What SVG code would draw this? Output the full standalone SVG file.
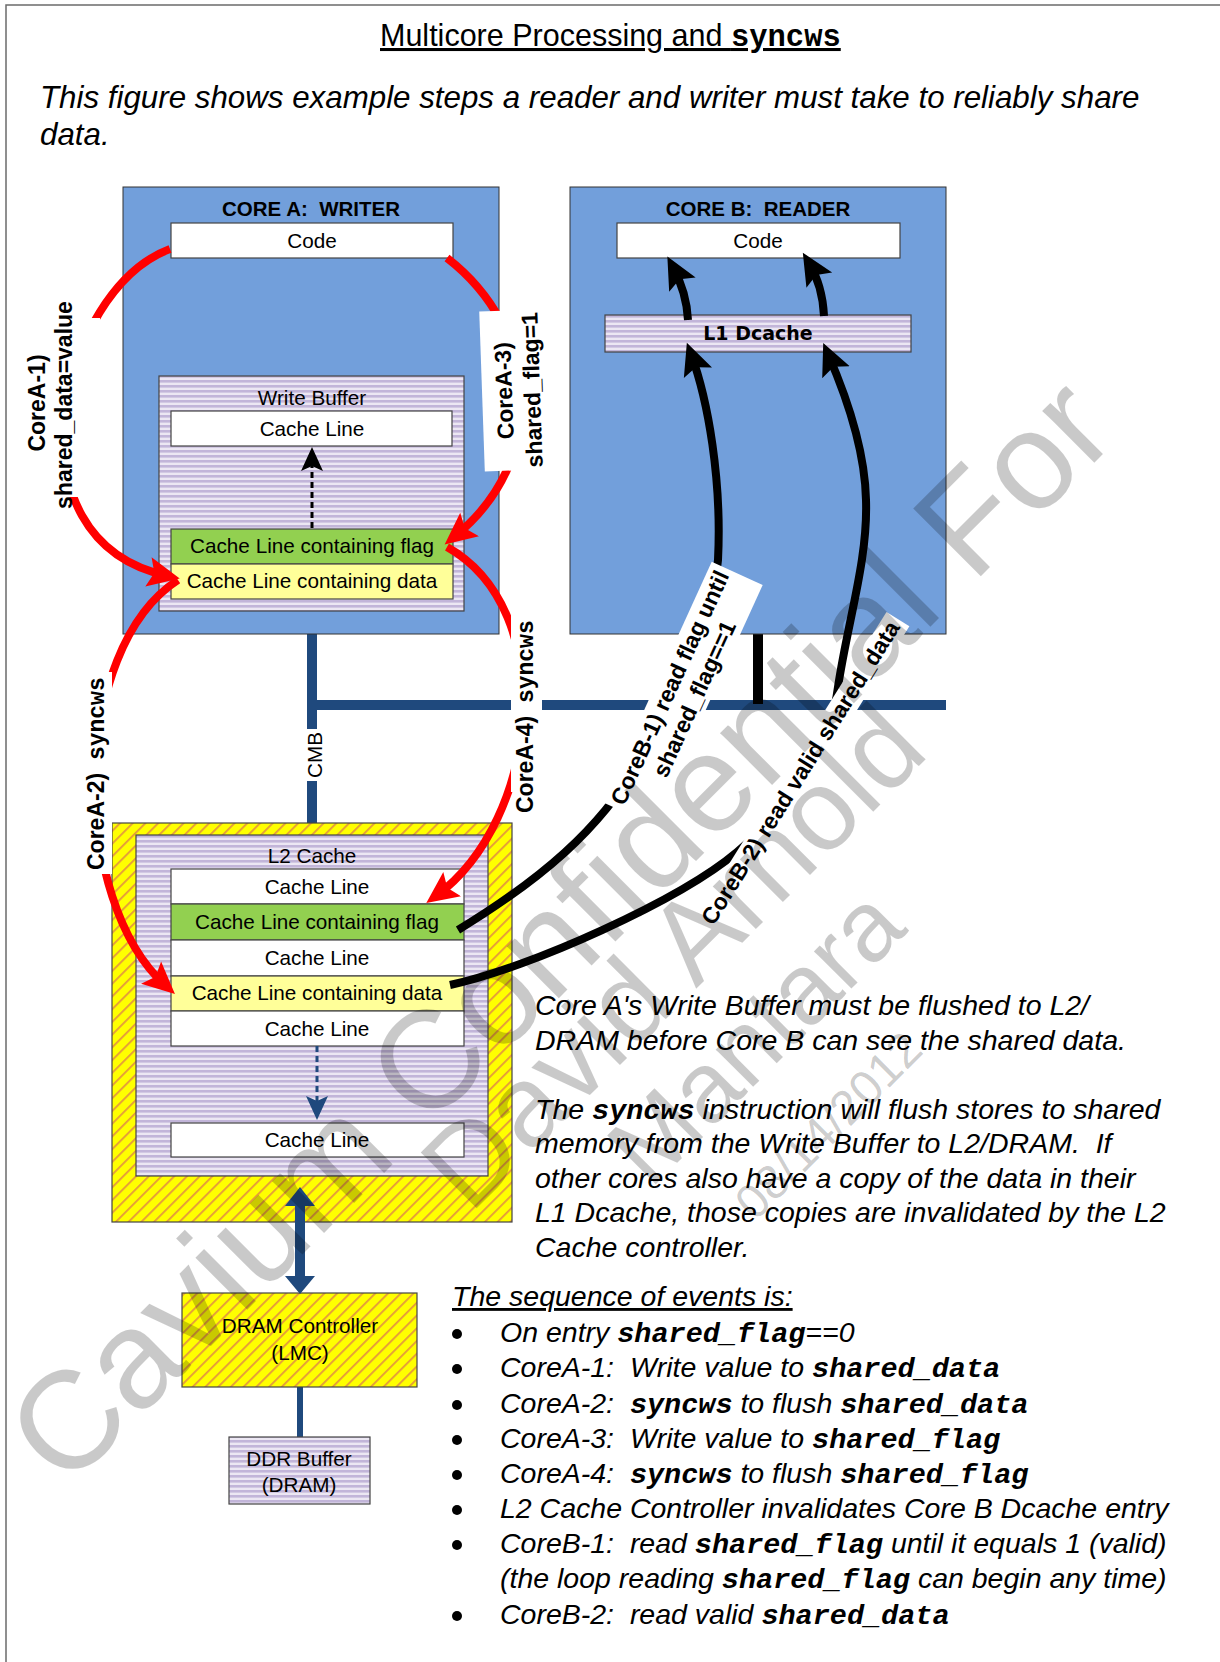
<svg xmlns="http://www.w3.org/2000/svg" width="1220" height="1662" viewBox="0 0 1220 1662">
  <defs>
    <!-- lavender horizontal stripes used for buffers/caches -->
    <pattern id="lav" width="10" height="5" patternUnits="userSpaceOnUse">
      <rect width="10" height="5" fill="#ece7f3"/>
      <rect width="10" height="2.6" fill="#c2b5d9"/>
    </pattern>
    <!-- yellow with orange diagonal hatching -->
    <pattern id="hatch" width="9" height="9" patternUnits="userSpaceOnUse" patternTransform="rotate(45)">
      <rect width="9" height="9" fill="#ffff00"/>
      <rect width="1.8" height="9" fill="#e4983c"/>
    </pattern>
    <marker id="redHead" markerUnits="userSpaceOnUse" markerWidth="34" markerHeight="34" viewBox="0 0 34 34" refX="20" refY="17" orient="auto">
      <path d="M0,2 L32,17 L0,32 L6,17 z" fill="#ff0000"/>
    </marker>
    <marker id="blackHead" markerUnits="userSpaceOnUse" markerWidth="34" markerHeight="34" viewBox="0 0 34 34" refX="20" refY="17" orient="auto">
      <path d="M0,2 L32,17 L0,32 L6,17 z" fill="#000"/>
    </marker>
    <marker id="dashHeadBlack" markerUnits="userSpaceOnUse" markerWidth="24" markerHeight="24" viewBox="0 0 24 24" refX="9" refY="12" orient="auto">
      <path d="M0,1 L24,12 L0,23 L5,12 z" fill="#000"/>
    </marker>
    <marker id="dashHeadBlue" markerUnits="userSpaceOnUse" markerWidth="24" markerHeight="24" viewBox="0 0 24 24" refX="9" refY="12" orient="auto">
      <path d="M0,1 L24,12 L0,23 L5,12 z" fill="#1f497d"/>
    </marker>
  </defs>
  <style>
    .t { font-family: "Liberation Sans", Arial, sans-serif; fill: #000; white-space: pre; }
    .box { font-size: 20.7px; text-anchor: middle; }
    .hdr { font-size: 20.5px; font-weight: bold; text-anchor: middle; }
    .lbl { font-size: 23px; font-weight: bold; }
    .it { font-size: 28.5px; font-style: italic; }
    .m { font-family: "Liberation Mono", "Courier New", monospace; font-weight: bold; }
    .mi { font-family: "Liberation Mono", "Courier New", monospace; font-weight: bold; font-style: italic; }
    .core { fill: #729fdb; stroke: #333; stroke-width: 1; }
    .cell { stroke: #444; stroke-width: 1.2; }
    .red { fill: none; stroke: #ff0000; stroke-width: 8; marker-end: url(#redHead); }
    .blk { fill: none; stroke: #000; stroke-width: 8; marker-end: url(#blackHead); }
    .bus { fill: none; stroke: #1f497d; stroke-width: 10; }
    .tag { fill: #fff; }
  </style>

  <rect width="1220" height="1662" fill="#fff"/>
  <rect x="6" y="5" width="1230" height="1680" fill="none" stroke="#6b6b6b" stroke-width="1.5"/>

  <!-- heading and intro -->
  <text class="t" x="380" y="46" font-size="30.5" text-decoration="underline">Multicore Processing and <tspan class="m">syncws</tspan></text>
  <text class="t" x="40" y="108" font-size="31.3" font-style="italic">This figure shows example steps a reader and writer must take to reliably share</text>
  <text class="t" x="40" y="145" font-size="31.3" font-style="italic">data.</text>

  <!-- bus lines -->
  <g id="buses">
    <path class="bus" d="M312,634 V823"/>
    <path class="bus" d="M312,705 H946"/>
    <path d="M758,634 V704" stroke="#000" stroke-width="10" fill="none"/>
    <path d="M300,1387 V1437" stroke="#1f497d" stroke-width="6" fill="none"/>
  </g>

  <!-- Core A -->
  <g id="coreA">
    <rect class="core" x="123" y="187" width="376" height="447"/>
    <text class="t hdr" x="311" y="216">CORE A:  WRITER</text>
    <g id="coreA-code">
      <rect class="cell" x="171" y="223" width="282" height="35" fill="#fff"/>
      <text class="t box" x="312" y="248">Code</text>
    </g>
    <g id="write-buffer">
      <rect class="cell" x="159" y="376" width="305" height="235" fill="url(#lav)"/>
      <text class="t box" x="312" y="405">Write Buffer</text>
      <rect class="cell" x="171" y="411" width="281" height="35" fill="#fff"/>
      <text class="t box" x="312" y="436">Cache Line</text>
    </g>
    <g id="wb-flag">
      <rect class="cell" x="171" y="529" width="282" height="35" fill="#92d050"/>
      <text class="t box" x="312" y="553">Cache Line containing flag</text>
    </g>
    <g id="wb-data">
      <rect class="cell" x="171" y="564" width="282" height="35" fill="#ffff99"/>
      <text class="t box" x="312" y="588">Cache Line containing data</text>
    </g>
  </g>

  <!-- Core B -->
  <g id="coreB">
    <rect class="core" x="570" y="187" width="376" height="447"/>
    <text class="t hdr" x="758" y="216">CORE B:  READER</text>
    <g id="coreB-code">
      <rect class="cell" x="617" y="223" width="283" height="35" fill="#fff"/>
      <text class="t box" x="758" y="248">Code</text>
    </g>
    <g id="l1-dcache">
      <rect class="cell" x="605" y="315" width="306" height="37" fill="url(#lav)"/>
      <text x="758" y="340" font-family="'DejaVu Sans', Verdana, sans-serif" font-weight="bold" font-size="19" text-anchor="middle" fill="#000">L1 Dcache</text>
    </g>
  </g>

  <!-- L2 cache -->
  <g id="l2">
    <rect class="cell" x="112" y="823" width="400" height="399" fill="url(#hatch)"/>
    <rect class="cell" x="136" y="835" width="352" height="341" fill="url(#lav)"/>
    <text class="t box" x="312" y="863">L2 Cache</text>
    <rect class="cell" x="171" y="869" width="293" height="35" fill="#fff"/>
    <text class="t box" x="317" y="894">Cache Line</text>
    <g id="l2-flag">
      <rect class="cell" x="171" y="904" width="293" height="36" fill="#92d050"/>
      <text class="t box" x="317" y="929">Cache Line containing flag</text>
    </g>
    <rect class="cell" x="171" y="940" width="293" height="36" fill="#fff"/>
    <text class="t box" x="317" y="965">Cache Line</text>
    <g id="l2-data">
      <rect class="cell" x="171" y="976" width="293" height="35" fill="#ffff99"/>
      <text class="t box" x="317" y="1000">Cache Line containing data</text>
    </g>
    <rect class="cell" x="171" y="1011" width="293" height="35" fill="#fff"/>
    <text class="t box" x="317" y="1036">Cache Line</text>
    <rect class="cell" x="171" y="1123" width="293" height="34" fill="#fff"/>
    <text class="t box" x="317" y="1147">Cache Line</text>
  </g>

  <!-- DRAM controller and DDR buffer -->
  <g id="dram-controller">
    <rect class="cell" x="182" y="1293" width="235" height="94" fill="url(#hatch)"/>
    <text class="t box" x="300" y="1333">DRAM Controller</text>
    <text class="t box" x="300" y="1360">(LMC)</text>
  </g>
  <g id="ddr-buffer">
    <rect class="cell" x="229" y="1437" width="141" height="67" fill="url(#lav)"/>
    <text class="t box" x="299" y="1466">DDR Buffer</text>
    <text class="t box" x="299" y="1492">(DRAM)</text>
  </g>

  <!-- explanatory text -->
  <g id="notes">
    <text class="t it" x="535" y="1015">Core A's Write Buffer must be flushed to L2/</text>
    <text class="t it" x="535" y="1050">DRAM before Core B can see the shared data.</text>
    <text class="t it" x="535" y="1119">The <tspan class="mi">syncws</tspan> instruction will flush stores to shared</text>
    <text class="t it" x="535" y="1153">memory from the Write Buffer to L2/DRAM.  If</text>
    <text class="t it" x="535" y="1188">other cores also have a copy of the data in their</text>
    <text class="t it" x="535" y="1222">L1 Dcache, those copies are invalidated by the L2</text>
    <text class="t it" x="535" y="1257">Cache controller.</text>
  </g>

  <g id="sequence">
    <text class="t it" x="452" y="1306" text-decoration="underline">The sequence of events is:</text>
    <g fill="#000">
      <circle cx="457" cy="1334" r="5"/>
      <circle cx="457" cy="1369" r="5"/>
      <circle cx="457" cy="1405" r="5"/>
      <circle cx="457" cy="1440" r="5"/>
      <circle cx="457" cy="1475" r="5"/>
      <circle cx="457" cy="1510" r="5"/>
      <circle cx="457" cy="1545" r="5"/>
      <circle cx="457" cy="1616" r="5"/>
    </g>
    <text class="t it" x="500" y="1342">On entry <tspan class="mi">shared_flag</tspan>==0</text>
    <text class="t it" x="500" y="1377">CoreA-1:  Write value to <tspan class="mi">shared_data</tspan></text>
    <text class="t it" x="500" y="1413">CoreA-2:  <tspan class="mi">syncws</tspan> to flush <tspan class="mi">shared_data</tspan></text>
    <text class="t it" x="500" y="1448">CoreA-3:  Write value to <tspan class="mi">shared_flag</tspan></text>
    <text class="t it" x="500" y="1483">CoreA-4:  <tspan class="mi">syncws</tspan> to flush <tspan class="mi">shared_flag</tspan></text>
    <text class="t it" x="500" y="1518">L2 Cache Controller invalidates Core B Dcache entry</text>
    <text class="t it" x="500" y="1553">CoreB-1:  read <tspan class="mi">shared_flag</tspan> until it equals 1 (valid)</text>
    <text class="t it" x="500" y="1588">(the loop reading <tspan class="mi">shared_flag</tspan> can begin any time)</text>
    <text class="t it" x="500" y="1624">CoreB-2:  read valid <tspan class="mi">shared_data</tspan></text>
  </g>

  <!-- connectors -->
  <g id="connectors">
    <path d="M312,528 V462" stroke="#000" stroke-width="3" stroke-dasharray="6 4" fill="none" marker-end="url(#dashHeadBlack)"/>
    <path d="M317,1046 V1105" stroke="#1f497d" stroke-width="3" stroke-dasharray="6 4" fill="none" marker-end="url(#dashHeadBlue)"/>
    <path d="M300,1205 V1277" stroke="#1f497d" stroke-width="10" fill="none"/>
    <path d="M285,1206 L315,1206 L300,1187 z M285,1276 L315,1276 L300,1294 z" fill="#1f497d"/>

    <path class="red" d="M170,249 C60,290 0,540 168,576"/>
    <path class="red" d="M178,580 C70,650 70,900 166,986"/>
    <path class="red" d="M447,258 C540,330 550,460 454,537"/>
    <path class="red" d="M447,547 C560,610 540,820 436,896"/>

    <path class="blk" d="M688,320 C687,300 681,282 673,267"/>
    <path class="blk" d="M824,316 C823,295 818,278 809,263"/>
    <path class="blk" d="M458,930 C540,880 600,830 640,760 S712,620 718,560 C722,480 708,400 691,354"/>
    <path class="blk" d="M450,985 C530,968 680,900 737,852 C790,808 830,750 838,687 C848,620 868,560 866,500 C865,450 848,400 828,354"/>
  </g>

  <!-- connector labels -->
  <g id="labels">
    <g id="lbl-cmb">
      <rect class="tag" x="303" y="729" width="22" height="52"/>
      <text class="t box" transform="translate(322,755) rotate(-90)">CMB</text>
    </g>
    <g id="lbl-a1">
      <rect class="tag" x="22" y="318" width="78" height="179"/>
      <text class="t lbl" text-anchor="middle" transform="translate(45,403) rotate(-90)">CoreA-1)</text>
      <text class="t lbl" text-anchor="middle" transform="translate(72,405) rotate(-90)">shared_data=value</text>
    </g>
    <g id="lbl-a2">
      <rect class="tag" x="76" y="672" width="36" height="202"/>
      <text class="t lbl" transform="translate(104,870) rotate(-90)">CoreA-2)  <tspan class="m">syncws</tspan></text>
    </g>
    <g id="lbl-a3" transform="translate(526,390) rotate(-92)">
      <rect class="tag" x="-80" y="-44" width="160" height="80"/>
      <text class="t lbl" text-anchor="middle" x="0" y="-14">CoreA-3)</text>
      <text class="t lbl" text-anchor="middle" x="0" y="14">shared_flag=1</text>
    </g>
    <g id="lbl-a4">
      <rect class="tag" x="511" y="612" width="31" height="180"/>
      <text class="t lbl" transform="translate(533,813) rotate(-90)">CoreA-4)  <tspan class="m">syncws</tspan></text>
    </g>
    <g id="lbl-b1" transform="translate(677,691) rotate(-65.5)">
      <rect class="tag" x="-132" y="-22" width="264" height="56"/>
      <text class="t lbl" text-anchor="middle" x="0" y="0">CoreB-1) read flag until</text>
      <text class="t lbl" text-anchor="middle" x="0" y="27">shared_flag==1</text>
    </g>
    <g id="lbl-b2" transform="translate(807,777) rotate(-58)">
      <rect class="tag" x="-182" y="-20" width="364" height="27"/>
      <text class="t lbl" text-anchor="middle" x="0" y="0">CoreB-2) read valid shared_data</text>
    </g>
  </g>

  <!-- confidentiality watermark -->
  <g id="watermark" font-family="'Liberation Sans', Arial, sans-serif" fill="#000" fill-opacity="0.21">
    <text font-size="139" transform="translate(66,1491) rotate(-45)">Cavium Confidential For</text>
    <text font-size="115" transform="translate(470,1215) rotate(-45)">David Arnold</text>
    <text font-size="100" transform="translate(650,1190) rotate(-45)">Mantara</text>
    <text font-size="48" transform="translate(755,1222) rotate(-45)">08/14/2012</text>
  </g>
</svg>
